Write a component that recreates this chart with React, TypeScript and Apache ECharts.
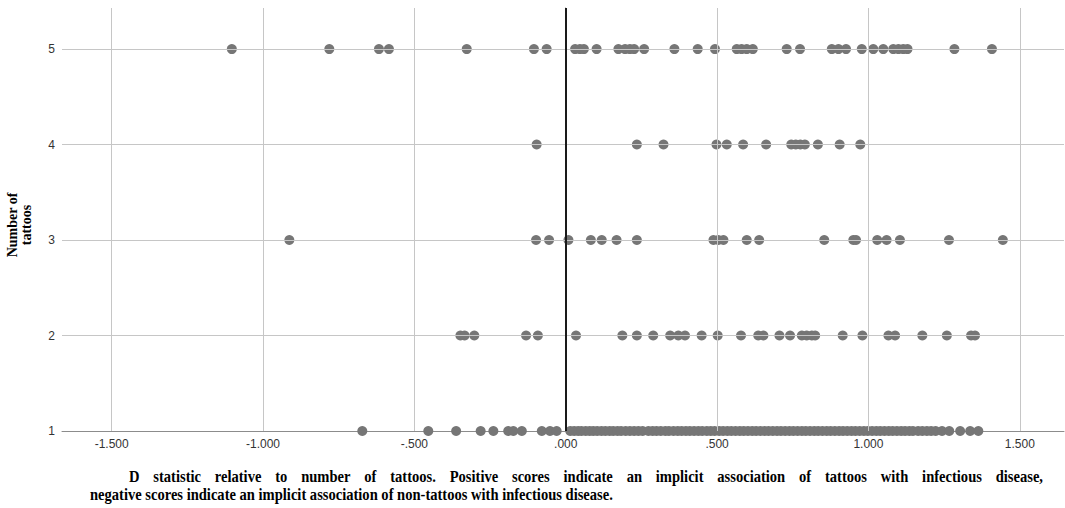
import React, { useEffect, useRef } from "react";
import * as echarts from "echarts";

// X ticks (D statistic)
const xTicks = [-1.5, -1.0, -0.5, 0.0, 0.5, 1.0, 1.5];
const yTicks = [1, 2, 3, 4, 5];

// D statistic values per number-of-tattoos row
const row5 = [
  -1.103, -0.781, -0.617, -0.584, -0.327, -0.105, -0.063, 0.031, 0.047, 0.06,
  0.102, 0.174, 0.196, 0.212, 0.226, 0.259, 0.359, 0.436, 0.493, 0.565, 0.581,
  0.598, 0.618, 0.73, 0.774, 0.879, 0.901, 0.926, 0.978, 1.016, 1.049, 1.082,
  1.099, 1.115, 1.129, 1.284, 1.408,
];
const row4 = [
  -0.096, 0.235, 0.323, 0.498, 0.532, 0.586, 0.662, 0.745, 0.76, 0.775, 0.79,
  0.833, 0.905, 0.973,
];
const row3 = [
  -0.913, -0.098, -0.055, 0.009, 0.083, 0.119, 0.168, 0.235, 0.488, 0.504,
  0.521, 0.598, 0.639, 0.854, 0.95, 0.959, 1.029, 1.06, 1.104, 1.266, 1.444,
];
const row2 = [
  -0.348, -0.334, -0.302, -0.131, -0.092, 0.034, 0.187, 0.235, 0.289, 0.345,
  0.372, 0.394, 0.449, 0.502, 0.579, 0.636, 0.653, 0.706, 0.741, 0.78, 0.796,
  0.813, 0.824, 0.915, 0.98, 1.066, 1.088, 1.178, 1.259, 1.339, 1.352,
];
const row1 = [
  -0.672, -0.454, -0.362, -0.281, -0.239, -0.19, -0.173, -0.145, -0.079, -0.052,
  -0.03, 0.015, 0.028, 0.041, 0.052, 0.066, 0.079, 0.091, 0.104, 0.118, 0.131,
  0.145, 0.157, 0.171, 0.183, 0.198, 0.212, 0.226, 0.24, 0.254, 0.273, 0.287,
  0.3, 0.314, 0.329, 0.341, 0.356, 0.37, 0.383, 0.397, 0.41, 0.424, 0.438,
  0.451, 0.466, 0.479, 0.492, 0.507, 0.52, 0.534, 0.547, 0.561, 0.575, 0.588,
  0.602, 0.616, 0.629, 0.643, 0.657, 0.67, 0.684, 0.698, 0.711, 0.725, 0.739,
  0.752, 0.766, 0.78, 0.793, 0.807, 0.821, 0.834, 0.848, 0.862, 0.875, 0.889,
  0.903, 0.916, 0.93, 0.944, 0.957, 0.971, 0.985, 0.998, 1.012, 1.026, 1.039,
  1.053, 1.067, 1.08, 1.094, 1.108, 1.121, 1.135, 1.147, 1.164, 1.178, 1.193,
  1.207, 1.222, 1.243, 1.267, 1.303, 1.336, 1.363,
];
const rows: [number, number[]][] = [
  [5, row5],
  [4, row4],
  [3, row3],
  [2, row2],
  [1, row1],
];

const yTitle = "Number of\ntattoos";
const captionLine1 =
  "D statistic relative to number of tattoos. Positive scores indicate an implicit association of tattoos with infectious disease,";
const captionLine2 =
  "negative scores indicate an implicit association of non-tattoos with infectious disease.";

const fmtX = (v: number) => {
  let s = Math.abs(v).toFixed(3);
  if (s.startsWith("0")) s = s.slice(1);
  return (v < 0 ? "-" : "") + s;
};

export default function App() {
  const ref = useRef<HTMLDivElement>(null);
  useEffect(() => {
    if (!ref.current) return;
    const chart = echarts.init(ref.current, null, { renderer: "svg" });

    const data: number[][] = [];
    rows.forEach(([y, xs]) => xs.forEach((x) => data.push([x, y])));

    // caption layout
    const capFont = 'bold 17px "Liberation Serif", "Times New Roman", serif';
    const ctx = document.createElement("canvas").getContext("2d")!;
    ctx.font = capFont;
    const w2 = ctx.measureText(captionLine2).width;
    const sx = 523 / w2;
    const words = captionLine1.split(" ");
    const wWidths = words.map((w) => ctx.measureText(w).width * sx);
    const line1Start = 129;
    const line1Width = 914;
    const gap =
      (line1Width - wWidths.reduce((a, b) => a + b, 0)) / (words.length - 1);
    const capStyle = {
      font: capFont,
      fill: "#000",
      textVerticalAlign: "middle",
    };
    const graphics: any[] = [];
    let cx = line1Start;
    words.forEach((w, i) => {
      graphics.push({
        type: "text",
        x: cx,
        y: 476,
        scaleX: sx,
        style: { ...capStyle, text: w },
      });
      cx += wWidths[i] + gap;
    });
    graphics.push({
      type: "text",
      x: 90,
      y: 494,
      scaleX: sx,
      style: { ...capStyle, text: captionLine2 },
    });
    graphics.push({
      type: "text",
      x: 19,
      y: 225,
      rotation: Math.PI / 2,
      style: {
        text: yTitle,
        font: 'bold 14px "Liberation Serif", "Times New Roman", serif',
        fill: "#000",
        textAlign: "center",
        textVerticalAlign: "middle",
        lineHeight: 14,
      },
    });

    chart.setOption({
      animation: false,
      backgroundColor: "#fff",
      grid: { left: 62, right: 1, top: 8, bottom: 77, containLabel: false },
      xAxis: {
        type: "value",
        min: -1.664,
        max: 1.646,
        axisLine: { show: true, lineStyle: { color: "#8c8c8c", width: 1 } },
        axisTick: { show: false, customValues: xTicks },
        splitLine: { show: false },
        axisLabel: {
          customValues: xTicks,
          formatter: (v: number) => fmtX(v),
          color: "#333",
          fontSize: 12,
          fontFamily: "Liberation Sans, Arial, sans-serif",
          margin: 7,
        },
      },
      yAxis: {
        type: "value",
        min: 1,
        max: 5.43,
        axisLine: { show: true, lineStyle: { color: "#8c8c8c", width: 1 } },
        axisTick: { show: false, customValues: yTicks },
        splitLine: { show: false },
        axisLabel: {
          customValues: yTicks,
          color: "#333",
          fontSize: 12,
          fontFamily: "Liberation Sans, Arial, sans-serif",
          margin: 7,
        },
      },
      graphic: graphics,
      series: [
        {
          type: "scatter",
          data: [],
          z: 1,
          silent: true,
          markLine: {
            silent: true,
            symbol: "none",
            label: { show: false },
            animation: false,
            lineStyle: { color: "#c6c6c6", width: 1, type: "solid" },
            data: [
              ...xTicks
                .filter((v) => v !== 0)
                .map((v) => ({ xAxis: v })),
              ...yTicks.filter((v) => v !== 1).map((v) => ({ yAxis: v })),
            ],
          },
        },
        {
          type: "scatter",
          data: [],
          z: 2,
          silent: true,
          markLine: {
            silent: true,
            symbol: "none",
            label: { show: false },
            animation: false,
            lineStyle: { color: "#1a1a1a", width: 2, type: "solid" },
            data: [{ xAxis: 0 }],
          },
        },
        {
          type: "scatter",
          z: 3,
          data,
          symbol: "circle",
          symbolSize: 10,
          itemStyle: { color: "#767676", opacity: 1 },
        },
      ],
    });
    return () => chart.dispose();
  }, []);
  return (
    <div
      ref={ref}
      style={{ position: "fixed", left: 0, top: 0, width: 1065, height: 508 }}
    />
  );
}
